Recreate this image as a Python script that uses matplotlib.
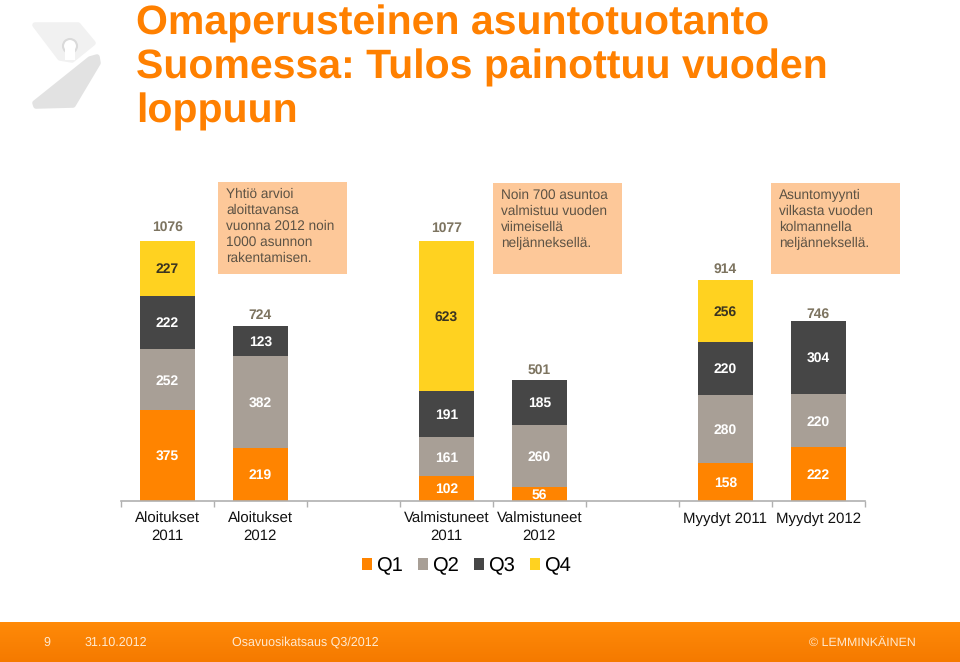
import numpy as np
import matplotlib.pyplot as plt
from matplotlib.patches import Polygon, Rectangle, Circle
from matplotlib.colors import LinearSegmentedColormap

plt.rcParams['font.family'] = ['Liberation Sans', 'DejaVu Sans']
plt.rcParams['text.hinting'] = 'none'

categories = ['Aloitukset\n2011', 'Aloitukset\n2012', '', 'Valmistuneet\n2011', 'Valmistuneet\n2012', '',
              'Myydyt 2011', 'Myydyt 2012']
q1 = [375, 219, 0, 102, 56, 0, 158, 222]
q2 = [252, 382, 0, 161, 260, 0, 280, 220]
q3 = [222, 123, 0, 191, 185, 0, 220, 304]
q4 = [227, 0, 0, 623, 0, 0, 256, 0]
totals = [1076, 724, 0, 1077, 501, 0, 914, 746]
series_names = ['Q1', 'Q2', 'Q3', 'Q4']

title = 'Omaperusteinen asuntotuotanto\nSuomessa: Tulos painottuu vuoden\nloppuun'
note_1 = 'Yhtiö arvioi\naloittavansa\nvuonna 2012 noin\n1000 asunnon\nrakentamisen.'
note_2 = 'Noin 700 asuntoa\nvalmistuu vuoden\nviimeisellä\nneljänneksellä.'
note_3 = 'Asuntomyynti\nvilkasta vuoden\nkolmannella\nneljänneksellä.'

colors = ['#FF8400', '#A89F96', '#464646', '#FFD220']
label_colors = ['white', 'white', 'white', '#3a3420']
total_color = '#7D7460'
note_bg = '#FDC899'
note_text = '#5C5244'

W, H = 960, 662
fig = plt.figure(figsize=(W / 100, H / 100), dpi=100)

# overlay in pixel coordinates for the slide furniture
bg = fig.add_axes([0, 0, 1, 1])
bg.axis('off')

# footer band
cmap = LinearSegmentedColormap.from_list('foot', ['#FF8A08', '#F57A00'])
bg.imshow(np.linspace(0, 1, 40).reshape(-1, 1), extent=[0, W, 662, 622], cmap=cmap, aspect='auto', zorder=1)
bg.set_xlim(0, W)
bg.set_ylim(H, 0)
foot = '#FFE9CF'
bg.text(43, 646, '9', color=foot, fontsize=9, va='baseline')
bg.text(85, 646, '31.10.2012', color=foot, fontsize=9, va='baseline')
bg.text(232, 646, 'Osavuosikatsaus Q3/2012', color=foot, fontsize=9, va='baseline')
bg.text(916, 646, '© LEMMINKÄINEN', color=foot, fontsize=8.9, va='baseline', ha='right')

# logo
bg.add_patch(Polygon([(35, 25), (78, 25), (93, 43), (72, 60), (60, 58)], closed=True, fc='#F1F1F1', ec='#F1F1F1',
                     lw=4, joinstyle='round'))
bg.add_patch(Circle((70, 46), 7, fc='white', ec='#DADADA', lw=1.5))
bg.add_patch(Rectangle((65, 48), 10, 12, fc='white', ec='none'))
bg.add_patch(Polygon([(97, 57), (98, 63), (73, 105), (36, 106), (35, 103), (90, 59)], closed=True, fc='#E2E2E2',
                     ec='#E2E2E2', lw=4, joinstyle='round'))

# title
for i, line in enumerate(title.split('\n')):
    bg.text(136.5, 34 + i * 44, line, color='#FF8000', fontsize=29.5, fontweight='bold', va='baseline')

# callouts
for x, y, w, h, txt in [(218, 182, 129, 92, note_1), (493, 183, 129, 91, note_2), (771, 183, 129, 91, note_3)]:
    bg.add_patch(Rectangle((x, y), w, h, fc=note_bg, ec='none'))
    bg.text(x + 8, y + 6, txt, color=note_text, fontsize=9.8, va='top', linespacing=1.28)

# chart
left, right, base, top = 120.7, 865, 501, 241
ax = fig.add_axes([left / W, 1 - base / H, (right - left) / W, (base - top + 10) / H])
ax.patch.set_alpha(0)
ax.set_xlim(-0.5, 7.5)
ax.set_ylim(0, 1076 * (base - top + 10) / (base - top))

x = np.arange(len(categories))
bottom = np.zeros(len(categories))
handles = []
for vals, name, col, lab in zip([q1, q2, q3, q4], series_names, colors, label_colors):
    bars = ax.bar(x, vals, 0.588, bottom=bottom, color=col, label=name)
    handles.append(bars)
    for xi, v, b in zip(x, vals, bottom):
        if v > 0:
            ax.annotate(str(v), (xi, b + v / 2), xytext=(0, -0.7), textcoords='offset points', ha='center',
                        va='center', color=lab, fontsize=10, fontweight='bold')
    bottom += np.array(vals)

# total labels, the gap above the bar differs a bit per bar
total_gap = [10, 8, 0, 9, 7, 0, 8, 5]
for xi, t, g in zip(x, totals, total_gap):
    if t > 0:
        ax.annotate(str(t), (xi, t), xytext=(0, g), textcoords='offset points', ha='center', va='center',
                    color=total_color, fontsize=10, fontweight='bold')

for s in ['top', 'left', 'right']:
    ax.spines[s].set_visible(False)
ax.spines['bottom'].set_color('#B0B0B0')
ax.spines['bottom'].set_linewidth(1.2)
ax.set_yticks([])
ax.set_xticks(x)
ax.set_xticklabels(categories, fontsize=10.8, color='#111111', linespacing=1.27)
ax.tick_params(axis='x', length=0, pad=8)
ax.set_xticks(np.arange(-0.5, 8), minor=True)
ax.tick_params(axis='x', which='minor', length=4, color='#B0B0B0', width=1, direction='out')

fig.legend(handles=handles, loc='center left', bbox_to_anchor=(354 / W, 1 - 566 / H), ncol=4, frameon=False,
           fontsize=14.5, handlelength=0.5, handleheight=0.5, handletextpad=0.2, columnspacing=0.74,
           borderpad=0, borderaxespad=0.4)

plt.savefig('out.png', dpi=100)
